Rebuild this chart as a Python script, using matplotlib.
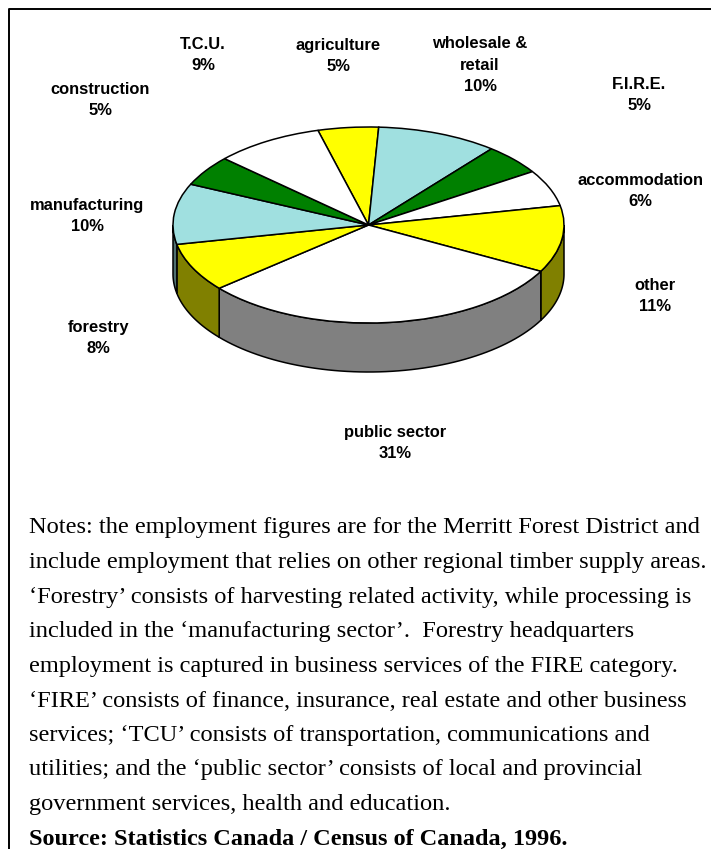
import numpy as np
import matplotlib
matplotlib.use("Agg")
import matplotlib.pyplot as plt
from matplotlib.colors import to_rgb

W, H = 711, 849

# sectors clockwise, starting from the top
sectors = ["agriculture", "wholesale &\nretail", "F.I.R.E.", "accommodation", "other",
           "public sector", "forestry", "manufacturing", "construction", "T.C.U."]
shares = [5, 10, 5, 6, 11, 31, 8, 10, 5, 9]
colors = ["#ffff00", "#a0e0e0", "#008000", "#ffffff", "#ffff00",
          "#ffffff", "#ffff00", "#a0e0e0", "#008000", "#ffffff"]

notes = [
    "Notes: the employment figures are for the Merritt Forest District and",
    "include employment that relies on other regional timber supply areas.",
    "\u2018Forestry\u2019 consists of harvesting related activity, while processing is",
    "included in the \u2018manufacturing sector\u2019.  Forestry headquarters",
    "employment is captured in business services of the FIRE category.",
    "\u2018FIRE\u2019 consists of finance, insurance, real estate and other business",
    "services; \u2018TCU\u2019 consists of transportation, communications and",
    "utilities; and the \u2018public sector\u2019 consists of local and provincial",
    "government services, health and education.",
]
source = "Source: Statistics Canada / Census of Canada, 1996."

# label centres in pixels, same order as sectors
label_x = [338, 480, 639, 640, 655, 395, 98, 87, 100, 203]
label_y = [56, 65, 95, 191, 296, 443, 338, 216, 100, 55]
note_base = [533, 568, 603, 637, 672, 707, 741, 775, 810]
source_base = 845

# pie geometry in pixels
cx, cy, rx, ry, depth = 368.5, 225, 195.5, 98, 49
start = 105

fig = plt.figure(figsize=(W / 100, H / 100), dpi=100)
ax = fig.add_axes([0, 0, 1, 1])

ax.pie(shares, colors=colors, startangle=start, counterclock=False, radius=1,
       wedgeprops={"edgecolor": "black", "linewidth": 1.1, "zorder": 3})

# stretch the unit circle into the tilted ellipse
ax.set_aspect("auto")
ax.set_xlim(-cx / rx, (W - cx) / rx)
ax.set_ylim((cy - H) / ry, cy / ry)
ax.axis("off")

# side wall, only the front half shows
drop = depth / ry
edges = start - np.cumsum([0] + shares) * 3.6
for i, col in enumerate(colors):
    lo = max(edges[i + 1], -180)
    hi = min(edges[i], 0)
    if lo >= hi:
        continue
    t = np.radians(np.linspace(lo, hi, 60))
    xs = np.cos(t)
    ys = np.sin(t)
    shade = tuple(c * 0.5 for c in to_rgb(col))
    ax.fill(np.r_[xs, xs[::-1]], np.r_[ys, ys[::-1] - drop], facecolor=shade,
            edgecolor="black", linewidth=1.1, zorder=2)


def px(x, y):
    return x / W, 1 - y / H


for name, val, x, y in zip(sectors, shares, label_x, label_y):
    fx, fy = px(x, y)
    fig.text(fx, fy, f"{name}\n{val}%", ha="center", va="center", family="Liberation Sans",
             fontweight="bold", fontsize=11.9, linespacing=1.55, color="black")

for line, y in zip(notes, note_base):
    fx, fy = px(29, y)
    fig.text(fx, fy, line, ha="left", va="baseline", family="Liberation Serif",
             fontsize=17.55, color="black")
fx, fy = px(29, source_base)
fig.text(fx, fy, source, ha="left", va="baseline", family="Liberation Serif",
         fontsize=17.5, fontweight="bold", color="black")

# frame, top and left only
ax.plot([9 / W, 9 / W, 1], [0, 1 - 9 / H, 1 - 9 / H], transform=fig.transFigure,
        color="black", linewidth=1.4, clip_on=False)

fig.savefig("out.png", dpi=100)
